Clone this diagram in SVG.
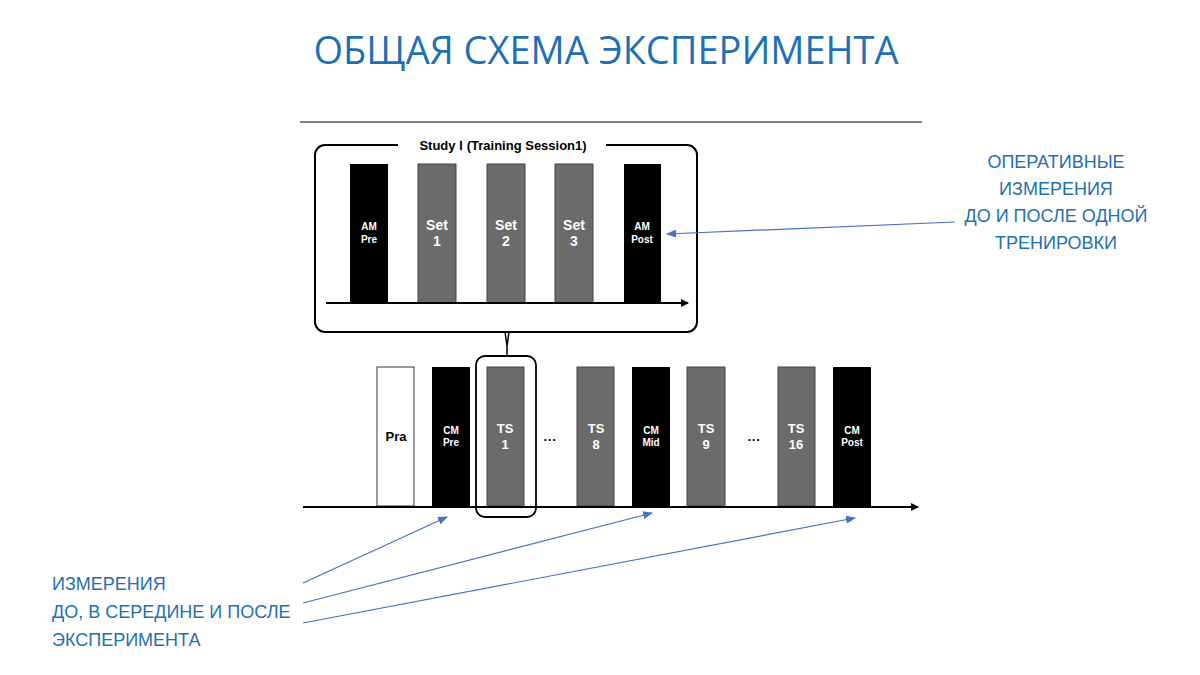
<svg xmlns="http://www.w3.org/2000/svg" width="1200" height="675" viewBox="0 0 1200 675">
<style>
.b{fill:#000}.g{fill:#6b6b6b;stroke:#444;stroke-width:1}.w{fill:#fff;stroke:#333;stroke-width:1}
.t{font-family:"Liberation Sans",Arial,sans-serif;font-weight:bold;fill:#fff;text-anchor:middle}
.bl{font-family:"Liberation Sans",Arial,sans-serif;fill:#1f6fb5;font-size:18px}
.ax{stroke:#000;stroke-width:2;fill:none}
.ar{stroke:#4472c4;stroke-width:1.2;fill:none}
</style>
<defs>
<marker id="ka" markerWidth="8" markerHeight="8" refX="7" refY="4" orient="auto" markerUnits="userSpaceOnUse"><path d="M0,0 L8,4 L0,8z" fill="#000"/></marker>
<marker id="ba" markerWidth="10" markerHeight="8" refX="9" refY="4" orient="auto" markerUnits="userSpaceOnUse"><path d="M0,0 L10,4 L0,8z" fill="#4472c4"/></marker>
</defs>
<rect width="1200" height="675" fill="#fff"/>
<text x="606" y="64" text-anchor="middle" font-family="'Open Sans','Liberation Sans',sans-serif" font-size="38" fill="#1f6fb5">ОБЩАЯ СХЕМА ЭКСПЕРИМЕНТА</text>
<line x1="300" y1="122" x2="922" y2="122" stroke="#000" stroke-width="1"/>
<g id="study-box">
<rect x="315" y="145" width="382" height="187" rx="10" fill="none" stroke="#000" stroke-width="2"/>
<rect x="398" y="136" width="208" height="18" fill="#fff"/>
<text x="503" y="150" text-anchor="middle" font-family="'Liberation Sans',Arial,sans-serif" font-weight="bold" font-size="13" fill="#000">Study Ⅰ (Training Session1)</text>
</g>
<g id="am-pre"><rect class="b" x="350" y="164" width="38" height="139"/><text class="t" font-size="10" x="369" y="230">AM</text><text class="t" font-size="10" x="369" y="243">Pre</text></g>
<g id="set1"><rect class="g" x="418" y="164" width="38" height="139"/><text class="t" font-size="14" x="437" y="230">Set</text><text class="t" font-size="14" x="437" y="246">1</text></g>
<g id="set2"><rect class="g" x="487" y="164" width="38" height="139"/><text class="t" font-size="14" x="506" y="230">Set</text><text class="t" font-size="14" x="506" y="246">2</text></g>
<g id="set3"><rect class="g" x="555" y="164" width="38" height="139"/><text class="t" font-size="14" x="574" y="230">Set</text><text class="t" font-size="14" x="574" y="246">3</text></g>
<g id="am-post"><rect class="b" x="624" y="164" width="37" height="139"/><text class="t" font-size="10" x="642" y="230">AM</text><text class="t" font-size="10" x="642" y="243">Post</text></g>
<g id="pra"><rect class="w" x="377" y="367" width="37" height="139"/><text class="t" font-size="13" x="396" y="441" fill="#000" style="fill:#000">Pra</text></g>
<g id="cm-pre"><rect class="b" x="432" y="367" width="38" height="139"/><text class="t" font-size="10" x="451" y="434">CM</text><text class="t" font-size="10" x="451" y="446">Pre</text></g>
<g id="ts1"><rect class="g" x="487" y="367" width="37" height="139"/><text class="t" font-size="13" x="505" y="433">TS</text><text class="t" font-size="13" x="505" y="449">1</text><rect x="476" y="356" width="60" height="161" rx="9" fill="none" stroke="#000" stroke-width="1.8"/></g>
<g id="ts8"><rect class="g" x="577" y="367" width="37" height="139"/><text class="t" font-size="13" x="596" y="433">TS</text><text class="t" font-size="13" x="596" y="449">8</text></g>
<g id="cm-mid"><rect class="b" x="632" y="367" width="38" height="139"/><text class="t" font-size="10" x="651" y="434">CM</text><text class="t" font-size="10" x="651" y="446">Mid</text></g>
<g id="ts9"><rect class="g" x="687" y="367" width="38" height="139"/><text class="t" font-size="13" x="706" y="433">TS</text><text class="t" font-size="13" x="706" y="449">9</text></g>
<g id="ts16"><rect class="g" x="778" y="367" width="37" height="139"/><text class="t" font-size="13" x="796" y="433">TS</text><text class="t" font-size="13" x="796" y="449">16</text></g>
<g id="cm-post"><rect class="b" x="833" y="367" width="38" height="139"/><text class="t" font-size="10" x="852" y="434">CM</text><text class="t" font-size="10" x="852" y="446">Post</text></g>
<text x="550" y="444" text-anchor="middle" font-family="'Liberation Sans',sans-serif" font-size="13" font-weight="bold">···</text>
<text x="754" y="444" text-anchor="middle" font-family="'Liberation Sans',sans-serif" font-size="13" font-weight="bold">···</text>
<g id="texts">
<text class="bl" text-anchor="middle"><tspan x="1056" y="168">ОПЕРАТИВНЫЕ</tspan><tspan x="1056" y="195">ИЗМЕРЕНИЯ</tspan><tspan x="1056" y="222">ДО И ПОСЛЕ ОДНОЙ</tspan><tspan x="1056" y="249">ТРЕНИРОВКИ</tspan></text>
<text class="bl"><tspan x="52" y="590">ИЗМЕРЕНИЯ</tspan><tspan x="52" y="618">ДО, В СЕРЕДИНЕ И ПОСЛЕ</tspan><tspan x="52" y="646">ЭКСПЕРИМЕНТА</tspan></text>
</g>
<g id="connectors">
<line class="ax" x1="326" y1="303" x2="688" y2="303" marker-end="url(#ka)"/>
<line class="ax" x1="303" y1="507" x2="918" y2="507" marker-end="url(#ka)"/>
<path d="M505,332 L507,346 L507,356 M509,332 L507,346" stroke="#000" stroke-width="1.5" fill="none"/>
<line class="ar" x1="955" y1="222" x2="667" y2="234" marker-end="url(#ba)"/>
<line class="ar" x1="303" y1="583" x2="447" y2="517" marker-end="url(#ba)"/>
<line class="ar" x1="303" y1="603" x2="652" y2="513" marker-end="url(#ba)"/>
<line class="ar" x1="303" y1="623" x2="855" y2="518" marker-end="url(#ba)"/>
</g>
</svg>
